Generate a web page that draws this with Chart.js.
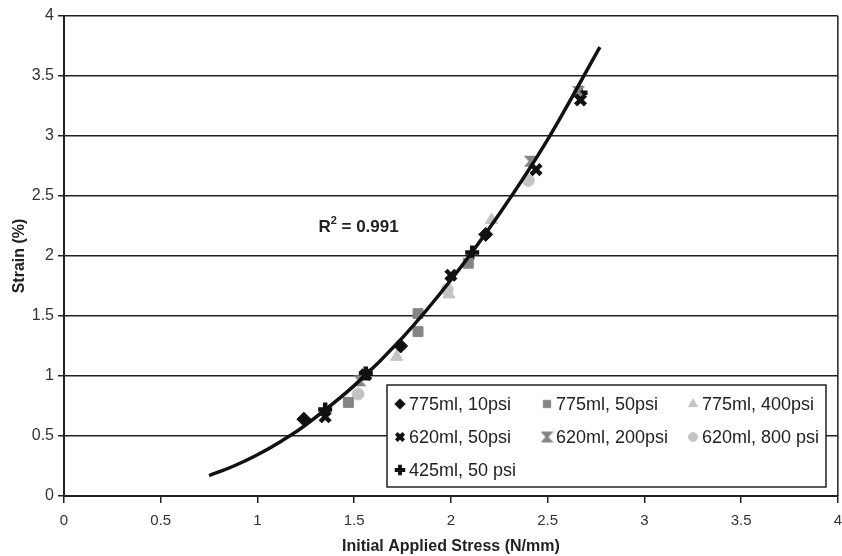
<!doctype html>
<html lang="en">
<head>
<meta charset="utf-8">
<title>Strain vs Initial Applied Stress</title>
<script src="https://cdn.jsdelivr.net/npm/chart.js@4.4.1/dist/chart.umd.min.js"></script>
<style>
	html, body { margin:0; padding:0; background:#fff; overflow:hidden; }
	#wrap { width:842px; height:556px; position:relative; }
	#chart { display:block; }
</style>
</head>
<body>
<div id="wrap"><canvas id="chart"></canvas></div>
<script>
// values: stress (N/mm) -> strain (%)
const s775_10_x = [1.24, 1.74, 2.18];
const s775_10_y = [0.64, 1.25, 2.18];
const s775_50_x = [1.47, 1.83, 1.83, 2.09];
const s775_50_y = [0.78, 1.37, 1.52, 1.94];
const s775_400_x = [1.72, 1.99, 2.21];
const s775_400_y = [1.16, 1.68, 2.30];
const s620_50_x = [1.35, 1.56, 2.00, 2.44, 2.67];
const s620_50_y = [0.66, 1.01, 1.84, 2.72, 3.30];
const s620_200_x = [1.53, 2.41, 2.66];
const s620_200_y = [0.96, 2.79, 3.37];
const s620_800_x = [1.52, 1.98, 2.40];
const s620_800_y = [0.85, 1.72, 2.63];
const s425_50_x = [1.35, 1.56, 2.11, 2.67];
const s425_50_y = [0.72, 1.02, 2.03, 3.36];

// trend line as drawn in the picture
const fitX = [0.75, 0.875, 1.0, 1.125, 1.25, 1.5, 1.75, 2.0, 2.25, 2.5, 2.77];
const fitY = [0.17, 0.248, 0.344, 0.459, 0.593, 0.92, 1.32, 1.80, 2.35, 2.97, 3.74];

const seriesNames = ["775ml, 10psi", "775ml, 50psi", "775ml, 400psi", "620ml, 50psi", "620ml, 200psi", "620ml, 800 psi", "425ml, 50 psi"];
const r2Text = "0.991";

function pts(xs, ys) { return xs.map((x, i) => ({ x:x, y:ys[i] })); }

// gray hourglass marker for 620ml, 200psi
function hourglass(color, n) {
	const c = document.createElement("canvas");
	c.width = n; c.height = n;
	const g = c.getContext("2d");
	g.fillStyle = color;
	g.beginPath();
	g.moveTo(0, 1); g.lineTo(n, 1); g.lineTo(n * 0.62, n / 2); g.lineTo(n, n - 1);
	g.lineTo(0, n - 1); g.lineTo(n * 0.38, n / 2); g.closePath();
	g.fill();
	return c;
}

const BLACK = "#111", GRAY = "#858585", LIGHT = "#c4c4c4";

const sets = [
	{ data:pts(s775_10_x, s775_10_y), pointStyle:"rectRot", pointRadius:7, backgroundColor:BLACK, borderColor:BLACK, pointBorderWidth:1 },
	{ data:pts(s775_50_x, s775_50_y), pointStyle:"rect", pointRadius:7, backgroundColor:GRAY, borderColor:GRAY, pointBorderWidth:1 },
	{ data:pts(s775_400_x, s775_400_y), pointStyle:"triangle", pointRadius:7, backgroundColor:LIGHT, borderColor:LIGHT, pointBorderWidth:1 },
	{ data:pts(s620_50_x, s620_50_y), pointStyle:"crossRot", pointRadius:7, backgroundColor:BLACK, borderColor:BLACK, pointBorderWidth:4.5 },
	{ data:pts(s620_200_x, s620_200_y), pointStyle:hourglass(GRAY, 13), pointRadius:7, backgroundColor:GRAY, borderColor:GRAY, pointBorderWidth:1 },
	{ data:pts(s620_800_x, s620_800_y), pointStyle:"circle", pointRadius:6, backgroundColor:LIGHT, borderColor:LIGHT, pointBorderWidth:1 },
	{ data:pts(s425_50_x, s425_50_y), pointStyle:"cross", pointRadius:7, backgroundColor:BLACK, borderColor:BLACK, pointBorderWidth:4.5 }
];
sets.forEach((s, i) => { s.label = seriesNames[i]; s.showLine = false; s.order = 2; s.pointHoverRadius = s.pointRadius; });

sets.push({
	label:"fit", data:pts(fitX, fitY), showLine:true, pointRadius:0,
	borderColor:"#111", borderWidth:3.5, tension:0.35, order:0, fill:false
});

const FAM = "'Liberation Sans', Arial, sans-serif";

// frame, floating legend and R^2 note
const extras = {
	id:"extras",
	afterDraw(chart) {
		const ctx = chart.ctx, a = chart.chartArea;
		const xs = chart.scales.x, ys = chart.scales.y;
		ctx.save();
		ctx.strokeStyle = "#222"; ctx.lineWidth = 1.5;
		ctx.beginPath(); ctx.moveTo(a.right, a.top); ctx.lineTo(a.right, a.bottom); ctx.stroke();

		// R^2
		ctx.fillStyle = "#222";
		ctx.font = "bold 17px " + FAM;
		ctx.textBaseline = "alphabetic";
		const rx = xs.getPixelForValue(1.315), ry = ys.getPixelForValue(2.2);
		ctx.fillText("R", rx, ry);
		let w = ctx.measureText("R").width;
		ctx.font = "bold 11px " + FAM;
		ctx.fillText("2", rx + w, ry - 8);
		w += ctx.measureText("2").width;
		ctx.font = "bold 17px " + FAM;
		ctx.fillText(" = " + r2Text, rx + w, ry);

		// legend box
		const bx = 387, by = 385, bw = 439, bh = 102;
		ctx.fillStyle = "#fff";
		ctx.fillRect(bx, by, bw, bh);
		ctx.strokeStyle = "#222"; ctx.lineWidth = 1.5;
		ctx.strokeRect(bx, by, bw, bh);
		const colX = [400, 547, 693], rowY = [404, 437, 470];
		ctx.font = "18px " + FAM;
		ctx.textBaseline = "middle";
		chart.data.datasets.forEach((d, i) => {
			if (i >= seriesNames.length) return;
			const cx = colX[i % 3], cy = rowY[Math.floor(i / 3)];
			ctx.fillStyle = d.backgroundColor; ctx.strokeStyle = d.borderColor;
			ctx.lineWidth = d.pointBorderWidth * 0.85;
			Chart.helpers.drawPoint(ctx, {
				pointStyle:d.pointStyle, radius:d.pointRadius * 0.75, rotation:0,
				borderWidth:d.pointBorderWidth * 0.85
			}, cx, cy);
			ctx.fillStyle = "#222";
			ctx.fillText(d.label, cx + 9, cy + 1);
		});
		ctx.restore();
	}
};

const tickFont = { family:FAM, size:16 };
const fmt = v => String(v);

new Chart(document.getElementById("chart"), {
	type:"scatter",
	data:{ datasets:sets },
	plugins:[extras],
	options:{
		responsive:true, maintainAspectRatio:false, animation:false,
		layout:{ autoPadding:false, padding:{ left:0, right:0, top:16, bottom:0 } },
		plugins:{ legend:{ display:false }, tooltip:{ enabled:false } },
		scales:{
			x:{
				type:"linear", min:0, max:4,
				ticks:{ stepSize:0.5, color:"#333", font:{ family:FAM, size:15, lineHeight:2.4 }, padding:0, maxRotation:0, callback:fmt },
				grid:{ display:true, drawOnChartArea:false, color:"#222", tickLength:7, lineWidth:1.5 },
				border:{ color:"#222", width:2 },
				title:{ display:true, text:"Initial Applied Stress (N/mm)", color:"#222",
					font:{ family:FAM, size:16, weight:"bold" }, padding:{ top:4, bottom:0 } },
				afterFit(s) { s.height = 60; }
			},
			y:{
				type:"linear", min:0, max:4,
				ticks:{ stepSize:0.5, color:"#333", font:tickFont, padding:4, callback:fmt },
				grid:{ color:"#222", lineWidth:1.5, tickLength:6 },
				border:{ color:"#222", width:2 },
				title:{ display:true, text:"Strain (%)", color:"#222",
					font:{ family:FAM, size:16, weight:"bold" }, padding:{ top:10, bottom:0 } },
				afterFit(s) { s.width = 64; }
			}
		}
	}
});
</script>
</body>
</html>
